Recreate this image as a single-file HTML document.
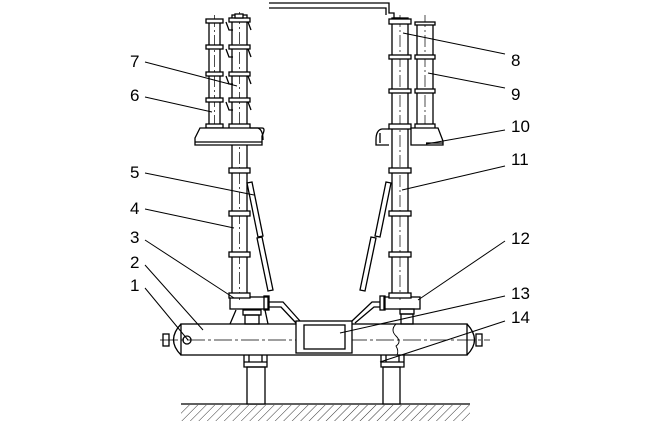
<!DOCTYPE html>
<html><head><style>
html,body{margin:0;padding:0;background:#fff}
svg{display:block}
text{font-family:"Liberation Sans",sans-serif;font-size:17px;fill:#000}
</style></head><body>
<svg width="664" height="424" viewBox="0 0 664 424" xmlns="http://www.w3.org/2000/svg">
<defs>
<pattern id="h" width="6" height="6" patternUnits="userSpaceOnUse" patternTransform="rotate(45)">
<line x1="0" y1="0" x2="0" y2="6" stroke="#000" stroke-width="0.8"/></pattern>
</defs>
<g fill="none" stroke="#000" stroke-width="1.3">
<!-- ground -->
<line x1="181" y1="404" x2="470" y2="404"/>
<rect x="181" y="405" width="289" height="16" fill="url(#h)" stroke="none"/>
<!-- legs -->
<rect x="247" y="367" width="18" height="37" fill="#fff"/>
<rect x="383" y="367" width="17" height="37" fill="#fff"/>
<path d="M244 345V367H267V345M249 345V362M262 345V362M244 362H267"/>
<path d="M381 345V367H404V345M386 345V362M399 345V362M381 362H404"/>
<!-- tank -->
<rect x="181" y="324" width="286" height="31" fill="#fff"/>
<path d="M181 324 Q166 340 181 355 M467 324 Q482 340 467 355"/>
<line x1="160" y1="340" x2="490" y2="340" stroke-width="0.8" stroke-dasharray="18,3,3,3"/>
<rect x="163" y="334" width="6" height="12"/><rect x="476" y="334" width="6" height="12"/>
<circle cx="187" cy="340" r="4"/>
<rect x="296" y="321" width="56" height="32" fill="#fff"/>
<rect x="304" y="325" width="41" height="24"/>
<path d="M396 324 q-6 6 0 12 q6 6 0 10 q3 5 1 9" stroke-width="0.9"/>
<!-- left base items -->
<rect x="230" y="297" width="38" height="12" fill="#fff"/>
<rect x="264" y="296" width="5" height="14"/>
<rect x="243" y="310" width="18" height="5"/><rect x="245" y="315" width="14" height="9"/>
<path d="M269 302H283L300 321M269 307H281L296 323" />
<path d="M236 310L230 324M265 310L268 324"/>
<!-- right base items -->
<rect x="384" y="297" width="36" height="12" fill="#fff"/>
<rect x="380" y="296" width="5" height="14"/>
<rect x="400" y="309" width="14" height="5"/><rect x="401" y="314" width="12" height="10"/>
<path d="M380 302H372L352 321M380 307H374L355 323"/>
<!-- top bus -->
<path d="M269 3H389V13H394V18H400M269 8H386V15"/>
<!-- left main column -->
<rect x="232" y="15" width="15" height="282" fill="#fff"/>
<line x1="239.5" y1="12" x2="239.5" y2="300" stroke-width="0.7" stroke-dasharray="12,3,2,3"/>
<g fill="#fff">
<rect x="229" y="18" width="21" height="4"/><rect x="229" y="45" width="21" height="4"/>
<rect x="229" y="72" width="21" height="4"/><rect x="229" y="98" width="21" height="4"/>
<rect x="229" y="124" width="21" height="5"/><rect x="229" y="168" width="21" height="5"/>
<rect x="229" y="211" width="21" height="5"/><rect x="229" y="252" width="21" height="5"/>
<rect x="229" y="293" width="21" height="5"/>
<rect x="235" y="14" width="8" height="4"/>
</g>
<!-- grading capacitor marks -->
<path d="M226 22l3 8h4M248 22l3 8M226 49l3 8h4M248 49l3 8M226 76l3 8h4M248 76l3 8M226 102l3 8h4M248 102l3 8M226 128l3 8"/>
<!-- left second column -->
<rect x="209" y="20" width="11" height="106" fill="#fff"/>
<line x1="214.5" y1="15" x2="214.5" y2="138" stroke-width="0.7" stroke-dasharray="12,3,2,3"/>
<g fill="#fff"><rect x="206" y="19" width="17" height="4"/><rect x="206" y="45" width="17" height="4"/>
<rect x="206" y="72" width="17" height="4"/><rect x="206" y="98" width="17" height="4"/><rect x="206" y="124" width="17" height="4"/></g>
<path d="M200 128H262Q266 128 262 136V145H195V138Z" fill="#fff"/>
<path d="M195 142H262M250 128H258Q263 130 263 140"/>
<!-- left brace -->
<path d="M247 183L252 182L263 236L258 237ZM257 238L262 237L273 290L268 291Z" fill="#fff"/>
<!-- right main column -->
<rect x="392" y="18" width="16" height="279" fill="#fff"/>
<line x1="400" y1="15" x2="400" y2="300" stroke-width="0.7" stroke-dasharray="12,3,2,3"/>
<g fill="#fff">
<rect x="389" y="19" width="22" height="5"/><rect x="389" y="55" width="22" height="4"/>
<rect x="389" y="89" width="22" height="4"/><rect x="389" y="124" width="22" height="5"/>
<rect x="389" y="168" width="22" height="5"/><rect x="389" y="211" width="22" height="5"/>
<rect x="389" y="252" width="22" height="5"/><rect x="389" y="293" width="22" height="5"/>
</g>
<!-- right second column -->
<rect x="417" y="24" width="16" height="101" fill="#fff"/>
<line x1="425" y1="15" x2="425" y2="140" stroke-width="0.7" stroke-dasharray="12,3,2,3"/>
<g fill="#fff"><rect x="415" y="22" width="20" height="3"/><rect x="415" y="55" width="20" height="4"/>
<rect x="415" y="89" width="20" height="4"/><rect x="415" y="124" width="20" height="5"/></g>
<path d="M411 128H438L443 141V145H411Z" fill="#fff"/>
<path d="M389 129H382Q376 130 376 140V145H389M380 133V143M426 143H443"/>
<!-- right brace -->
<path d="M391 183L386 182L375 236L380 237ZM376 238L371 237L360 290L365 291Z" fill="#fff"/>
<!-- leaders -->
<g stroke-width="1">
<line x1="145" y1="62" x2="237" y2="86"/>
<line x1="145" y1="97" x2="212" y2="112"/>
<line x1="145" y1="173" x2="254" y2="195"/>
<line x1="145" y1="209" x2="234" y2="228"/>
<line x1="145" y1="240" x2="234" y2="298"/>
<line x1="145" y1="265" x2="203" y2="330"/>
<line x1="145" y1="288" x2="188" y2="340"/>
<line x1="505" y1="54" x2="403" y2="33"/>
<line x1="505" y1="88" x2="428" y2="73"/>
<line x1="505" y1="130" x2="426" y2="144"/>
<line x1="505" y1="166" x2="402" y2="190"/>
<line x1="505" y1="241" x2="418" y2="300"/>
<line x1="505" y1="296" x2="340" y2="333"/>
<line x1="505" y1="321" x2="380" y2="362"/>
</g>
</g>
<g>
<text x="130" y="67">7</text><text x="130" y="101">6</text>
<text x="130" y="178">5</text><text x="130" y="214">4</text>
<text x="130" y="243">3</text><text x="130" y="268">2</text>
<text x="130" y="291">1</text>
<text x="511" y="66">8</text><text x="511" y="100">9</text>
<text x="511" y="132">10</text><text x="511" y="165">11</text>
<text x="511" y="244">12</text><text x="511" y="299">13</text>
<text x="511" y="323">14</text>
</g>
</svg>
</body></html>
